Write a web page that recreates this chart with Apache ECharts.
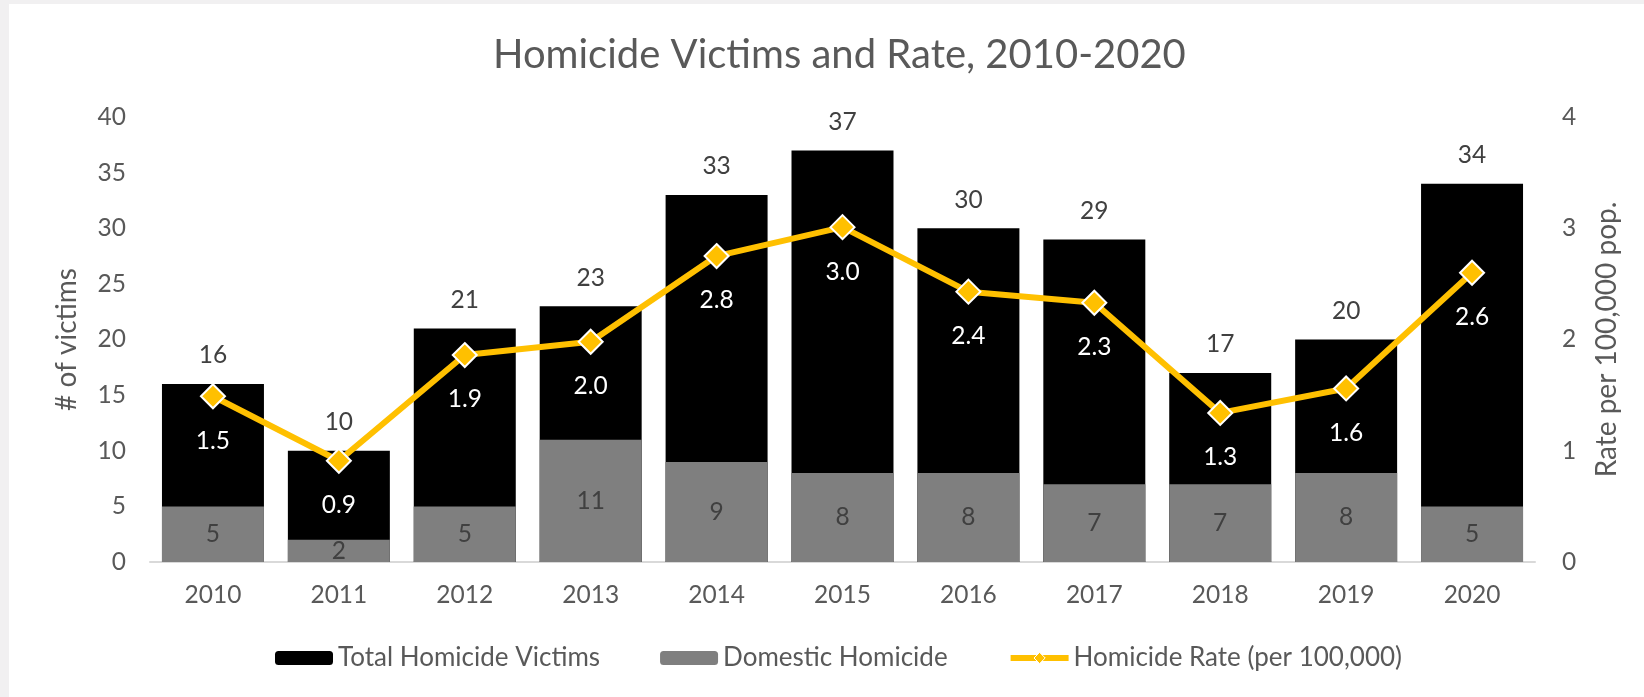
<!DOCTYPE html>
<html>
<head>
<meta charset="utf-8">
<script src="https://cdn.jsdelivr.net/npm/echarts@6/dist/echarts.min.js"></script>
<style>
html,body{margin:0;padding:0;background:#ffffff;}
#chart{width:1644px;height:697px;}
</style>
</head>
<body>
<div id="chart"></div>
<script>
// ---- data ----
const years = ['2010','2011','2012','2013','2014','2015','2016','2017','2018','2019','2020'];
const totalVictims = [16, 10, 21, 23, 33, 37, 30, 29, 17, 20, 34];
const domesticHomicide = [5, 2, 5, 11, 9, 8, 8, 7, 7, 8, 5];
const homicideRate = [1.49, 0.91, 1.86, 1.98, 2.75, 3.01, 2.43, 2.33, 1.34, 1.56, 2.60];
const victimsAxis = {min: 0, max: 40, interval: 5};
const rateAxis = {min: 0, max: 4, interval: 1};
const seriesNames = ['Total Homicide Victims', 'Domestic Homicide', 'Homicide Rate (per 100,000)'];
const titleText = 'Homicide Victims and Rate, 2010-2020';
const leftAxisName = '# of victims';
const rightAxisName = 'Rate per 100,000 pop.';

// ---- chart ----
const FONT = 'Lato';
const chart = echarts.init(document.getElementById('chart'), null, {renderer: 'canvas'});
const option = {
  backgroundColor: '#ffffff',
  animation: false,
  textStyle: {fontFamily: FONT},
  graphic: [
    {type: 'rect', shape: {x: 0, y: 0, width: 1644, height: 4}, style: {fill: '#f1f0f1'}, silent: true},
    {type: 'rect', shape: {x: 0, y: 0, width: 9, height: 697}, style: {fill: '#f1f0f1'}, silent: true}
  ],
  title: {
    text: titleText,
    left: 493,
    top: 35,
    padding: 0,
    textStyle: {fontFamily: FONT, fontSize: 40, fontWeight: 'normal', color: '#595959'}
  },
  legend: {
    data: [
      {name: seriesNames[0]},
      {name: seriesNames[1]},
      {name: seriesNames[2], lineStyle: {width: 6, color: '#ffc000'}, itemStyle: {color: '#ffc000', borderColor: '#ffffff', borderWidth: 1}}
    ],
    left: 275,
    top: 645,
    padding: 0,
    itemWidth: 58,
    itemHeight: 14,
    itemGap: 60,
    textStyle: {fontFamily: FONT, fontSize: 26, color: '#595959'}
  },
  grid: {left: 150, right: 109, top: 117, bottom: 135, containLabel: false},
  xAxis: {
    type: 'category',
    data: years,
    axisLine: {show: true, lineStyle: {color: '#d9d9d9', width: 2}},
    axisTick: {show: false},
    axisLabel: {margin: 21, fontFamily: FONT, fontSize: 24.5, color: '#595959'}
  },
  yAxis: [
    {
      type: 'value',
      min: victimsAxis.min, max: victimsAxis.max, interval: victimsAxis.interval,
      name: leftAxisName,
      nameLocation: 'middle',
      nameGap: 69,
      nameRotate: 90,
      nameTextStyle: {fontFamily: FONT, fontSize: 28, color: '#595959'},
      axisLine: {show: false},
      axisTick: {show: false},
      splitLine: {show: false},
      axisLabel: {margin: 24, fontFamily: FONT, fontSize: 24.5, color: '#595959'}
    },
    {
      type: 'value',
      min: rateAxis.min, max: rateAxis.max, interval: rateAxis.interval,
      name: rightAxisName,
      nameLocation: 'middle',
      nameGap: 58,
      nameRotate: 90,
      nameTextStyle: {fontFamily: FONT, fontSize: 28, color: '#595959'},
      axisLine: {show: false},
      axisTick: {show: false},
      splitLine: {show: false},
      axisLabel: {margin: 27, fontFamily: FONT, fontSize: 24.5, color: '#595959'}
    }
  ],
  series: [
    {
      name: seriesNames[0],
      type: 'bar',
      data: totalVictims,
      barWidth: '81%',
      barGap: '-100%',
      itemStyle: {color: '#000000'},
      label: {show: true, position: 'top', distance: 16, fontFamily: FONT, fontSize: 24.5, color: '#404040'},
      z: 2
    },
    {
      name: seriesNames[1],
      type: 'bar',
      data: domesticHomicide,
      barWidth: '81%',
      barGap: '-100%',
      itemStyle: {color: '#7f7f7f'},
      label: {show: true, position: 'inside', fontFamily: FONT, fontSize: 24.5, color: '#404040'},
      z: 3
    },
    {
      name: seriesNames[2],
      type: 'line',
      yAxisIndex: 1,
      data: homicideRate,
      symbol: 'diamond',
      symbolSize: 24,
      lineStyle: {color: '#ffc000', width: 6},
      itemStyle: {color: '#ffc000', borderColor: '#ffffff', borderWidth: 2},
      label: {
        show: true, position: 'bottom', distance: 19,
        fontFamily: FONT, fontSize: 24.5, color: '#ffffff',
        formatter: p => p.value.toFixed(1)
      },
      z: 5
    }
  ]
};
chart.setOption(option);
</script>
</body>
</html>
